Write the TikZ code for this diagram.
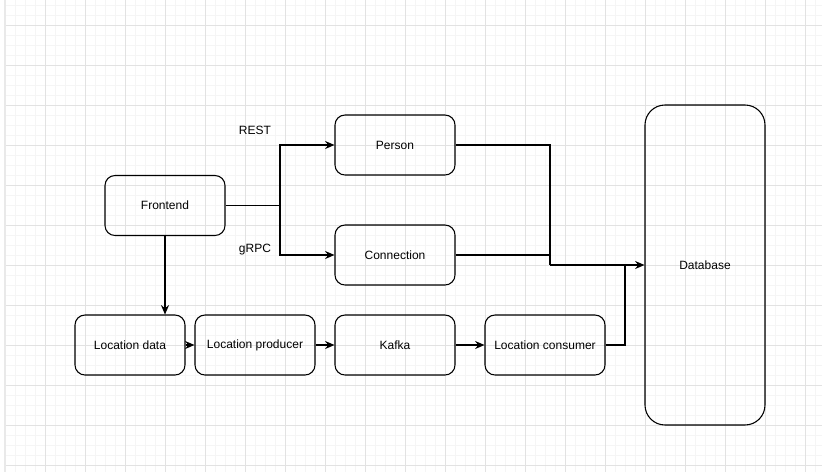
\documentclass[tikz,border=0pt]{standalone}
\usepackage{fontspec}
\setmainfont{Liberation Sans}
\usetikzlibrary{arrows.meta}
\definecolor{gridminor}{HTML}{F5F5F5}
\definecolor{gridmajor}{HTML}{E2E2E2}
\begin{document}
\begin{tikzpicture}[x=0.75pt, y=-0.75pt, font=\fontsize{9}{11}\selectfont,
      box/.style={draw, line width=0.8pt, rounded corners=7.5pt, minimum width=90pt,
                  minimum height=45pt, inner sep=0pt},
      link/.style={line width=0.8pt, -{Stealth[length=7pt, width=6pt]}},
      wire/.style={line width=0.8pt}]
      \useasboundingbox (0, 0) rectangle (822, 472);
      % background grid
      \foreach \x in {5, 15, ..., 815} \draw[gridminor, line width=0.6pt] (\x, 0) -- (\x, 472);
      \foreach \y in {5, 15, ..., 465} \draw[gridminor, line width=0.6pt] (5, \y) -- (822, \y);
      \foreach \x in {5, 45, ..., 805} \draw[gridmajor, line width=0.7pt] (\x, 0) -- (\x, 472);
      \foreach \y in {25, 65, ..., 465} \draw[gridmajor, line width=0.7pt] (5, \y) -- (822, \y);
      \draw[gridmajor!80!black!30, line width=1.2pt] (5, 0) -- (5, 472);
      % services
      \node[box] (frontend) at (165, 205.5) {Frontend};
      \node[box] (person) at (395, 145) {Person};
      \node[box] (connection) at (395, 255) {Connection};
      \node[box, rounded corners=15pt, minimum height=240pt] (database) at (705, 265) {Database};
      \node[box, minimum width=82.5pt] (locdata) at (130, 345) {Location data};
      \node[box] (producer) at (255, 345) {Location producer};
      \node[box] (kafka) at (395, 345) {Kafka};
      \node[box] (consumer) at (545, 345) {Location consumer};
      \node (rest) at (255, 130) {REST};
      \node (grpc) at (255, 250) {gRPC};
      \coordinate (split) at (280, 205.5);
      \coordinate (join) at (550, 265);
      \coordinate (join2) at (625, 265);
      % connectors
      \draw[wire] (frontend.east) -- (split);
      \draw[link] (split) |- (person.west);
      \draw[link] (split) |- (connection.west);
      \draw[wire] (person.east) -| (join);
      \draw[wire] (connection.east) -| (join);
      \draw[link] (join) -- (database.west);
      \draw[wire] (consumer.east) -| (join2);
      \draw[link] (frontend.south) -- (frontend.south |- locdata.north);
      \draw[link] (locdata) -- (producer);
      \draw[link] (producer) -- (kafka);
      \draw[link] (kafka) -- (consumer);
\end{tikzpicture}
\end{document}
